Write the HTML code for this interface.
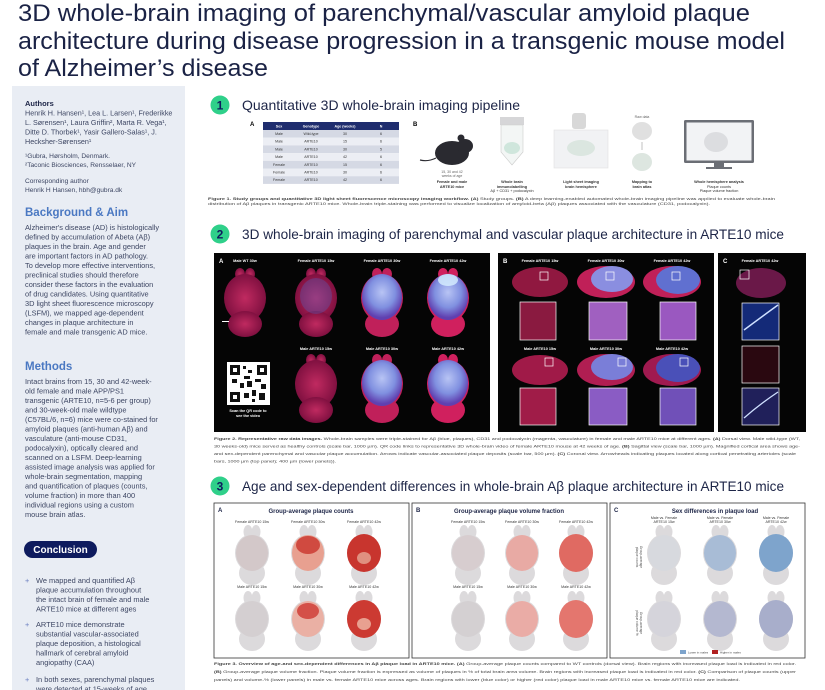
<!DOCTYPE html>
<html><head><meta charset="utf-8"><style>
html,body{margin:0;padding:0;background:#fff;}
svg{display:block;font-family:"Liberation Sans",sans-serif;}
</style></head><body>
<svg width="825" height="690" viewBox="0 0 825 690" xmlns="http://www.w3.org/2000/svg">
<defs>
<g id="br2"><ellipse cx="-5" cy="-30" rx="5" ry="6"/><ellipse cx="5" cy="-30" rx="5" ry="6"/><ellipse cx="0" cy="-6" rx="21" ry="24"/><ellipse cx="0" cy="20" rx="17" ry="13"/></g>
<g id="br3"><ellipse cx="-4" cy="-24" rx="4.5" ry="7"/><ellipse cx="4" cy="-24" rx="4.5" ry="7"/><ellipse cx="0" cy="-3" rx="17" ry="19"/><ellipse cx="0" cy="17" rx="13" ry="12"/></g>
<radialGradient id="mag" cx="50%" cy="50%" r="50%"><stop offset="0" stop-color="#c02a60"/><stop offset="1" stop-color="#801040"/></radialGradient>
<radialGradient id="blu" cx="50%" cy="40%" r="55%"><stop offset="0" stop-color="#b8c4f4"/><stop offset="0.6" stop-color="#8090e0"/><stop offset="1" stop-color="#6040b0"/></radialGradient>
</defs>

<!-- Title -->
<g fill="#1a2245" font-size="24">
<text x="18" y="21" textLength="732" lengthAdjust="spacingAndGlyphs">3D whole-brain imaging of parenchymal/vascular amyloid plaque</text>
<text x="18" y="49" textLength="767" lengthAdjust="spacingAndGlyphs">architecture during disease progression in a transgenic mouse model</text>
<text x="18" y="76" textLength="250" lengthAdjust="spacingAndGlyphs">of Alzheimer’s disease</text>
</g>

<!-- Left panel -->
<rect x="12" y="86" width="173" height="604" fill="#e9edf4"/>
<g fill="#3d4663" font-size="7.2">
<text x="25" y="106" font-weight="bold" fill="#1d2547" font-size="7.5">Authors</text>
<text x="25" y="115.5">Henrik H. Hansen¹, Lea L. Larsen¹, Frederikke</text>
<text x="25" y="125">L. Sørensen¹, Laura Griffin², Marta R. Vega¹,</text>
<text x="25" y="134.5">Ditte D. Thorbek¹, Yasir Gallero-Salas¹, J.</text>
<text x="25" y="144">Hecksher-Sørensen¹</text>
<text x="25" y="158" font-size="6.6">¹Gubra, Hørsholm, Denmark.</text>
<text x="25" y="167" font-size="6.6">²Taconic Biosciences, Rensselaer, NY</text>
<text x="25" y="183" font-size="6.6">Corresponding author</text>
<text x="25" y="192" font-size="6.6">Henrik H Hansen, hbh@gubra.dk</text>
</g>
<text x="25" y="216" font-size="11.5" font-weight="bold" fill="#4a78c2">Background &amp; Aim</text>
<g fill="#3d4663" font-size="7.4">
<text x="25" y="230">Alzheimer's disease (AD) is histologically</text>
<text x="25" y="239.5">defined by accumulation of Abeta (Aβ)</text>
<text x="25" y="249">plaques in the brain. Age and gender</text>
<text x="25" y="258.5">are important factors in AD pathology.</text>
<text x="25" y="268">To develop more effective interventions,</text>
<text x="25" y="277.5">preclinical studies should therefore</text>
<text x="25" y="287">consider these factors in the evaluation</text>
<text x="25" y="296.5">of drug candidates. Using quantitative</text>
<text x="25" y="306">3D light sheet fluorescence microscopy</text>
<text x="25" y="315.5">(LSFM), we mapped age-dependent</text>
<text x="25" y="325">changes in plaque architecture in</text>
<text x="25" y="334.5">female and male transgenic AD mice.</text>
</g>
<text x="25" y="370" font-size="11.5" font-weight="bold" fill="#4a78c2">Methods</text>
<g fill="#3d4663" font-size="7.4">
<text x="25" y="384">Intact brains from 15, 30 and 42-week-</text>
<text x="25" y="393.5">old female and male APP/PS1</text>
<text x="25" y="403">transgenic (ARTE10, n=5-6 per group)</text>
<text x="25" y="412.5">and 30-week-old male wildtype</text>
<text x="25" y="422">(C57BL/6, n=6) mice were co-stained for</text>
<text x="25" y="431.5">amyloid plaques (anti-human Aβ) and</text>
<text x="25" y="441">vasculature (anti-mouse CD31,</text>
<text x="25" y="450.5">podocalyxin), optically cleared and</text>
<text x="25" y="460">scanned on a LSFM. Deep-learning</text>
<text x="25" y="469.5">assisted image analysis was applied for</text>
<text x="25" y="479">whole-brain segmentation, mapping</text>
<text x="25" y="488.5">and quantification of plaques (counts,</text>
<text x="25" y="498">volume fraction) in more than 400</text>
<text x="25" y="507.5">individual regions using a custom</text>
<text x="25" y="517">mouse brain atlas.</text>
</g>
<rect x="24" y="541" width="73" height="17" rx="8.5" fill="#0e1b5e"/>
<text x="60.5" y="553" font-size="10" font-weight="bold" fill="#fff" text-anchor="middle">Conclusion</text>
<g fill="#3d4663" font-size="7.4">
<text x="25" y="583" fill="#6a7ec0">+</text>
<text x="36" y="583">We mapped and quantified Aβ</text>
<text x="36" y="592.5">plaque accumulation throughout</text>
<text x="36" y="602">the intact brain of female and male</text>
<text x="36" y="611.5">ARTE10 mice at different ages</text>
<text x="25" y="627" fill="#6a7ec0">+</text>
<text x="36" y="627">ARTE10 mice demonstrate</text>
<text x="36" y="636.5">substantial vascular-associated</text>
<text x="36" y="646">plaque deposition, a histological</text>
<text x="36" y="655.5">hallmark of cerebral amyloid</text>
<text x="36" y="665">angiopathy (CAA)</text>
<text x="25" y="682" fill="#6a7ec0">+</text>
<text x="36" y="682">In both sexes, parenchymal plaques</text>
<text x="36" y="691.5">were detected at 15-weeks of age</text>
</g>

<!-- Section headers -->
<g>
<circle cx="220" cy="105" r="9.5" fill="#2fd08a"/><text x="220" y="109.5" font-size="12" font-weight="bold" fill="#0e1b5e" text-anchor="middle">1</text>
<text x="242" y="110" font-size="14" fill="#1d2547" textLength="278" lengthAdjust="spacingAndGlyphs">Quantitative 3D whole-brain imaging pipeline</text>
<circle cx="220" cy="234" r="9.5" fill="#2fd08a"/><text x="220" y="238.5" font-size="12" font-weight="bold" fill="#0e1b5e" text-anchor="middle">2</text>
<text x="242" y="239" font-size="14" fill="#1d2547" textLength="542" lengthAdjust="spacingAndGlyphs">3D whole-brain imaging of parenchymal and vascular plaque architecture in ARTE10 mice</text>
<circle cx="220" cy="486" r="9.5" fill="#2fd08a"/><text x="220" y="490.5" font-size="12" font-weight="bold" fill="#0e1b5e" text-anchor="middle">3</text>
<text x="242" y="491" font-size="14" fill="#1d2547" textLength="542" lengthAdjust="spacingAndGlyphs">Age and sex-dependent differences in whole-brain Aβ plaque architecture in ARTE10 mice</text>
</g>

<!-- Figure 1 -->
<text x="250" y="126" font-size="6" font-weight="bold">A</text>
<g font-size="3.6" text-anchor="middle">
<rect x="263" y="122" width="136" height="8" fill="#1f2d6e"/>
<g fill="#fff" font-weight="bold"><text x="279" y="127.5">Sex</text><text x="311" y="127.5">Genotype</text><text x="345" y="127.5">Age (weeks)</text><text x="381" y="127.5">N</text></g>
<rect x="263" y="130" width="136" height="7.7" fill="#d5d9e4"/>
<rect x="263" y="137.7" width="136" height="7.7" fill="#eceef4"/>
<rect x="263" y="145.4" width="136" height="7.7" fill="#d5d9e4"/>
<rect x="263" y="153.1" width="136" height="7.7" fill="#eceef4"/>
<rect x="263" y="160.8" width="136" height="7.7" fill="#d5d9e4"/>
<rect x="263" y="168.5" width="136" height="7.7" fill="#eceef4"/>
<rect x="263" y="176.2" width="136" height="7.7" fill="#d5d9e4"/>
<g fill="#333">
<text x="279" y="135">Male</text><text x="311" y="135">Wild-type</text><text x="345" y="135">30</text><text x="381" y="135">6</text>
<text x="279" y="142.7">Male</text><text x="311" y="142.7">ARTE10</text><text x="345" y="142.7">15</text><text x="381" y="142.7">6</text>
<text x="279" y="150.4">Male</text><text x="311" y="150.4">ARTE10</text><text x="345" y="150.4">30</text><text x="381" y="150.4">5</text>
<text x="279" y="158.1">Male</text><text x="311" y="158.1">ARTE10</text><text x="345" y="158.1">42</text><text x="381" y="158.1">6</text>
<text x="279" y="165.8">Female</text><text x="311" y="165.8">ARTE10</text><text x="345" y="165.8">15</text><text x="381" y="165.8">6</text>
<text x="279" y="173.5">Female</text><text x="311" y="173.5">ARTE10</text><text x="345" y="173.5">30</text><text x="381" y="173.5">6</text>
<text x="279" y="181.2">Female</text><text x="311" y="181.2">ARTE10</text><text x="345" y="181.2">42</text><text x="381" y="181.2">6</text>
</g></g>
<text x="413" y="126" font-size="6" font-weight="bold">B</text>
<ellipse cx="452" cy="153" rx="17" ry="12" fill="#2a2a30"/>
<ellipse cx="465" cy="146" rx="8" ry="7" fill="#2a2a30"/>
<circle cx="461" cy="138" r="3.5" fill="#2a2a30"/>
<path d="M436 158 Q428 162 420 160" stroke="#2a2a30" stroke-width="1.2" fill="none"/>
<text x="452" y="173" font-size="3.5" fill="#666" text-anchor="middle">15, 30 and 42</text>
<text x="452" y="177" font-size="3.5" fill="#666" text-anchor="middle">weeks of age</text>
<rect x="500" y="117" width="24" height="8" fill="#d6d6d8"/>
<path d="M501 125 L523 125 L523 152 L512 165 L501 152 Z" fill="#f3f6f5" stroke="#ccc" stroke-width="0.6"/>
<ellipse cx="512" cy="148" rx="8" ry="6" fill="#cfe6dc"/>
<rect x="572" y="113" width="14" height="16" rx="3" fill="#d8d8d8"/>
<rect x="554" y="130" width="54" height="38" fill="#f1f2f4" stroke="#e0e0e0" stroke-width="0.6"/>
<ellipse cx="581" cy="148" rx="14" ry="8" fill="#dbe6e0"/>
<text x="642" y="118" font-size="3.5" fill="#666" text-anchor="middle">Raw data</text>
<ellipse cx="642" cy="131" rx="10" ry="9" fill="#e0e0e0"/>
<path d="M642 142 V150" stroke="#999" stroke-width="0.6"/>
<ellipse cx="642" cy="162" rx="10" ry="9" fill="#dde6e0"/>
<rect x="684" y="120" width="70" height="43" rx="1.5" fill="#6b6e75"/>
<rect x="686.5" y="122.5" width="65" height="38" fill="#f2f3f5"/>
<ellipse cx="716" cy="142" rx="12" ry="10" fill="#dcdde0"/>
<rect x="714" y="163" width="10" height="4" fill="#6b6e75"/><rect x="706" y="167" width="26" height="2" fill="#6b6e75"/>
<g font-size="3.8" text-anchor="middle" fill="#333">
<g font-weight="bold"><text x="452" y="183">Female and male</text><text x="452" y="188">ARTE10 mice</text>
<text x="512" y="183">Whole brain</text><text x="512" y="188">immunolabelling</text>
<text x="581" y="183">Light sheet imaging</text><text x="581" y="188">brain hemisphere</text>
<text x="642" y="183">Mapping to</text><text x="642" y="188">brain atlas</text>
<text x="719" y="183">Whole hemisphere analysis</text></g>
<text x="512" y="192">Aβ + CD31 + podocalyxin</text>
<text x="719" y="188">Plaque counts</text><text x="719" y="192">Plaque volume fraction</text>
</g>
<g font-size="4" fill="#444">
<text x="208" y="200" textLength="567" lengthAdjust="spacingAndGlyphs"><tspan font-weight="bold">Figure 1. Study groups and quantitative 3D light sheet fluorescence microscopy imaging workflow. (A)</tspan> Study groups. <tspan font-weight="bold">(B)</tspan> A deep learning-enabled automated whole-brain imaging pipeline was applied to evaluate whole-brain</text>
<text x="208" y="205" textLength="502" lengthAdjust="spacingAndGlyphs">distribution of Aβ plaques in transgenic ARTE10 mice. Whole-brain triple-staining was performed to visualize localization of amyloid-beta (Aβ) plaques associated with the vasculature (CD31, podocalyxin).</text>
</g>

<!-- Figure 2 panels -->
<rect x="214" y="253" width="276" height="179" fill="#050505"/>
<rect x="498" y="253" width="216" height="179" fill="#050505"/>
<rect x="718" y="253" width="88" height="179" fill="#050505"/>
<g fill="#fff" font-size="3.8" text-anchor="middle" font-weight="bold">
<text x="219" y="263" font-size="6" text-anchor="start">A</text>
<text x="503" y="263" font-size="6" text-anchor="start">B</text>
<text x="723" y="263" font-size="6" text-anchor="start">C</text>
<text x="245" y="262">Male WT 30w</text><text x="316" y="262">Female ARTE10 15w</text><text x="382" y="262">Female ARTE10 30w</text><text x="448" y="262">Female ARTE10 42w</text>
<text x="316" y="350">Male ARTE10 15w</text><text x="382" y="350">Male ARTE10 30w</text><text x="448" y="350">Male ARTE10 42w</text>
<text x="540" y="262">Female ARTE10 15w</text><text x="606" y="262">Female ARTE10 30w</text><text x="672" y="262">Female ARTE10 42w</text>
<text x="540" y="350">Male ARTE10 15w</text><text x="606" y="350">Male ARTE10 30w</text><text x="672" y="350">Male ARTE10 42w</text>
<text x="760" y="262">Female ARTE10 42w</text>
</g>
<use href="#br2" x="245" y="304" fill="url(#mag)"/>
<use href="#br2" x="316" y="304" fill="url(#mag)"/>
<ellipse cx="316" cy="296" rx="16" ry="18" fill="#5060c0" opacity="0.35"/>
<use href="#br2" x="382" y="304" fill="#c0205a"/>
<ellipse cx="382" cy="297" rx="20" ry="23" fill="url(#blu)"/>
<use href="#br2" x="448" y="304" fill="#d0205e"/>
<ellipse cx="448" cy="297" rx="20" ry="23" fill="url(#blu)"/>
<ellipse cx="448" cy="280" rx="10" ry="6" fill="#d8f0ff" opacity="0.8"/>
<use href="#br2" x="316" y="390" fill="url(#mag)"/>
<use href="#br2" x="382" y="390" fill="#c0205a"/>
<ellipse cx="382" cy="383" rx="20" ry="23" fill="url(#blu)"/>
<use href="#br2" x="448" y="390" fill="#d0205e"/>
<ellipse cx="448" cy="383" rx="20" ry="23" fill="url(#blu)"/>
<rect x="222" y="321" width="7" height="1" fill="#fff"/>
<rect x="227" y="362" width="43" height="43" fill="#fff"/>
<g fill="#111"><rect x="230" y="365" width="10" height="10"/><rect x="257" y="365" width="10" height="10"/><rect x="230" y="392" width="10" height="10"/>
<rect x="243" y="366" width="3" height="3"/><rect x="248" y="370" width="4" height="3"/><rect x="244" y="376" width="6" height="3"/><rect x="232" y="379" width="5" height="4"/><rect x="240" y="383" width="4" height="5"/><rect x="247" y="381" width="5" height="6"/><rect x="255" y="379" width="6" height="3"/><rect x="261" y="384" width="5" height="5"/><rect x="252" y="390" width="4" height="6"/><rect x="244" y="393" width="5" height="5"/><rect x="259" y="393" width="6" height="7"/><rect x="252" y="399" width="3" height="3"/></g>
<rect x="233" y="368" width="4" height="4" fill="#fff"/><rect x="260" y="368" width="4" height="4" fill="#fff"/><rect x="233" y="395" width="4" height="4" fill="#fff"/>
<g fill="#fff" font-size="3.8" text-anchor="middle" font-weight="bold"><text x="248" y="412">Scan the QR code to</text><text x="248" y="417">see the video</text></g>
<ellipse cx="540" cy="282" rx="28" ry="15" fill="#901840"/>
<ellipse cx="606" cy="282" rx="29" ry="16" fill="#c02058"/><ellipse cx="612" cy="279" rx="21" ry="13" fill="#8a8ee0"/>
<ellipse cx="672" cy="282" rx="29" ry="16" fill="#c02058"/><ellipse cx="678" cy="280" rx="22" ry="14" fill="#6070d0"/>
<ellipse cx="540" cy="370" rx="28" ry="15" fill="#a01a48"/>
<ellipse cx="606" cy="370" rx="29" ry="16" fill="#b01e52"/><ellipse cx="612" cy="367" rx="21" ry="13" fill="#7a7ed8"/>
<ellipse cx="672" cy="370" rx="29" ry="16" fill="#a01a50"/><ellipse cx="678" cy="368" rx="22" ry="14" fill="#4a50b8"/>
<g fill="none" stroke="#fff" stroke-width="0.7">
<rect x="540" y="272" width="8" height="8"/><rect x="606" y="272" width="8" height="8"/><rect x="672" y="272" width="8" height="8"/>
<rect x="545" y="358" width="8" height="8"/><rect x="618" y="358" width="8" height="8"/><rect x="680" y="358" width="8" height="8"/>
</g>
<rect x="520" y="302" width="36" height="38" fill="#8a1a40" stroke="#fff" stroke-width="0.7"/>
<rect x="589" y="302" width="38" height="38" fill="#a060c0" stroke="#fff" stroke-width="0.7"/>
<rect x="660" y="302" width="36" height="38" fill="#9a58c0" stroke="#fff" stroke-width="0.7"/>
<rect x="520" y="388" width="36" height="37" fill="#a01c48" stroke="#fff" stroke-width="0.7"/>
<rect x="589" y="388" width="38" height="37" fill="#8a5cc4" stroke="#fff" stroke-width="0.7"/>
<rect x="660" y="388" width="36" height="37" fill="#7050b8" stroke="#fff" stroke-width="0.7"/>
<ellipse cx="761" cy="283" rx="25" ry="15" fill="#6a1848"/>
<rect x="740" y="270" width="9" height="9" fill="none" stroke="#fff" stroke-width="0.7"/>
<rect x="742" y="303" width="37" height="37" fill="#142a78" stroke="#fff" stroke-width="0.7"/>
<path d="M744 330 Q760 318 778 305" stroke="#cfe0ff" stroke-width="1.5" fill="none"/>
<rect x="742" y="346" width="37" height="37" fill="#2a0810" stroke="#fff" stroke-width="0.7"/>
<rect x="742" y="388" width="37" height="37" fill="#20205a" stroke="#fff" stroke-width="0.7"/>
<path d="M744 418 Q760 404 778 392" stroke="#cfe0ff" stroke-width="1.3" fill="none"/>
<g font-size="3.8" fill="#444">
<text x="214" y="440" textLength="586" lengthAdjust="spacingAndGlyphs"><tspan font-weight="bold">Figure 2. Representative raw data images.</tspan> Whole-brain samples were triple-stained for Aβ (blue, plaques), CD31 and podocalyxin (magenta, vasculature) in female and male ARTE10 mice at different ages. <tspan font-weight="bold">(A)</tspan> Dorsal view. Male wild-type (WT,</text>
<text x="214" y="447.5" textLength="586" lengthAdjust="spacingAndGlyphs">30 weeks-old) mice served as healthy controls (scale bar, 1000 µm). QR code links to representative 3D whole-brain video of female ARTE10 mouse at 42 weeks of age. <tspan font-weight="bold">(B)</tspan> Sagittal view (scale bar, 1000 µm). Magnified cortical area shows age-</text>
<text x="214" y="455" textLength="582" lengthAdjust="spacingAndGlyphs">and sex-dependent parenchymal and vascular plaque accumulation. Arrows indicate vascular-associated plaque deposits (scale bar, 500 µm). <tspan font-weight="bold">(C)</tspan> Coronal view. Arrowheads indicating plaques located along cortical penetrating arterioles (scale</text>
<text x="214" y="462.5" textLength="122" lengthAdjust="spacingAndGlyphs">bars, 1000 µm (top panel); 400 µm (lower panels)).</text>
</g>

<!-- Figure 3 panels -->
<g fill="#fff" stroke="#333" stroke-width="0.8">
<rect x="214" y="503" width="195" height="155"/><rect x="412" y="503" width="195" height="155"/><rect x="610" y="503" width="195" height="155"/>
</g>
<g font-size="6" font-weight="bold" fill="#1d2547">
<text x="218" y="512">A</text><text x="416" y="512">B</text><text x="614" y="512">C</text>
<text x="311" y="513" text-anchor="middle">Group-average plaque counts</text>
<text x="509" y="513" text-anchor="middle">Group-average plaque volume fraction</text>
<text x="715" y="513" text-anchor="middle">Sex differences in plaque load</text>
</g>
<g font-size="3.6" fill="#333" text-anchor="middle">
<text x="252" y="523">Female ARTE10 15w</text><text x="308" y="523">Female ARTE10 30w</text><text x="364" y="523">Female ARTE10 42w</text>
<text x="252" y="588">Male ARTE10 15w</text><text x="308" y="588">Male ARTE10 30w</text><text x="364" y="588">Male ARTE10 42w</text>
<text x="468" y="523">Female ARTE10 15w</text><text x="522" y="523">Female ARTE10 30w</text><text x="576" y="523">Female ARTE10 42w</text>
<text x="468" y="588">Male ARTE10 15w</text><text x="522" y="588">Male ARTE10 30w</text><text x="576" y="588">Male ARTE10 42w</text>
<text x="664" y="519">Male vs. Female</text><text x="664" y="523">ARTE10 15w</text>
<text x="720" y="519">Male vs. Female</text><text x="720" y="523">ARTE10 30w</text>
<text x="776" y="519">Male vs. Female</text><text x="776" y="523">ARTE10 42w</text>
</g>
<g fill="#dcdadc">
<use href="#br3" x="252" y="556"/><use href="#br3" x="308" y="556"/><use href="#br3" x="364" y="556"/>
<use href="#br3" x="252" y="622"/><use href="#br3" x="308" y="622"/><use href="#br3" x="364" y="622"/>
<use href="#br3" x="468" y="556"/><use href="#br3" x="522" y="556"/><use href="#br3" x="576" y="556"/>
<use href="#br3" x="468" y="622"/><use href="#br3" x="522" y="622"/><use href="#br3" x="576" y="622"/>
<use href="#br3" x="664" y="556"/><use href="#br3" x="720" y="556"/><use href="#br3" x="776" y="556"/>
<use href="#br3" x="664" y="622"/><use href="#br3" x="720" y="622"/><use href="#br3" x="776" y="622"/>
</g>
<g>
<ellipse cx="252" cy="553" rx="16" ry="18" fill="#cdbcbc" opacity="0.6"/>
<ellipse cx="252" cy="619" rx="16" ry="18" fill="#cfc8ca" opacity="0.6"/>
<ellipse cx="308" cy="553" rx="16" ry="18" fill="#e8a090"/><ellipse cx="308" cy="545" rx="12" ry="9" fill="#d04a40"/>
<ellipse cx="308" cy="619" rx="16" ry="18" fill="#eab0a4"/><ellipse cx="308" cy="611" rx="11" ry="8" fill="#d45048"/>
<ellipse cx="364" cy="553" rx="17" ry="19" fill="#c8352e"/><ellipse cx="364" cy="558" rx="7" ry="6" fill="#e09080"/>
<ellipse cx="364" cy="619" rx="17" ry="19" fill="#cc3a32"/><ellipse cx="364" cy="624" rx="7" ry="6" fill="#e8a090"/>
<ellipse cx="468" cy="553" rx="16" ry="18" fill="#d4c8c9" opacity="0.7"/>
<ellipse cx="468" cy="619" rx="16" ry="18" fill="#d0cccd" opacity="0.7"/>
<ellipse cx="522" cy="553" rx="16" ry="18" fill="#e8aaa4"/>
<ellipse cx="522" cy="619" rx="16" ry="18" fill="#eaaca6"/>
<ellipse cx="576" cy="553" rx="17" ry="19" fill="#e06a62"/>
<ellipse cx="576" cy="619" rx="17" ry="19" fill="#e4766e"/>
<ellipse cx="664" cy="553" rx="16" ry="18" fill="#d4d8de" opacity="0.7"/>
<ellipse cx="720" cy="553" rx="16" ry="18" fill="#a8bcd6"/>
<ellipse cx="776" cy="553" rx="17" ry="19" fill="#7ea4cc"/>
<ellipse cx="664" cy="619" rx="16" ry="18" fill="#d2d2da" opacity="0.7"/>
<ellipse cx="720" cy="619" rx="16" ry="18" fill="#b4b8d0"/>
<ellipse cx="776" cy="619" rx="17" ry="19" fill="#a8aecb"/>
</g>
<g font-size="3.3" fill="#555" text-anchor="middle">
<text transform="translate(640 557) rotate(90)">Group-average</text><text transform="translate(636 557) rotate(90)">plaque counts</text>
<text transform="translate(640 623) rotate(90)">Group-average</text><text transform="translate(636 623) rotate(90)">plaque volume %</text>
</g>
<rect x="680" y="650" width="6" height="4" fill="#7ea4cc"/><text x="688" y="653.5" font-size="3" fill="#444">Lower in males</text>
<rect x="712" y="650" width="6" height="4" fill="#b02020"/><text x="720" y="653.5" font-size="3" fill="#444">Higher in males</text>
<g font-size="3.8" fill="#444">
<text x="214" y="665" textLength="582" lengthAdjust="spacingAndGlyphs"><tspan font-weight="bold">Figure 3. Overview of age-and sex-dependent differences in Aβ plaque load in ARTE10 mice. (A)</tspan> Group-average plaque counts compared to WT controls (dorsal view). Brain regions with increased plaque load is indicated in red color.</text>
<text x="214" y="673" textLength="582" lengthAdjust="spacingAndGlyphs"><tspan font-weight="bold">(B)</tspan> Group-average plaque volume fraction. Plaque volume fraction is expressed as volume of plaques in % of total brain area volume. Brain regions with increased plaque load is indicated in red color. <tspan font-weight="bold">(C)</tspan> Comparison of plaque counts (upper</text>
<text x="214" y="681" textLength="526" lengthAdjust="spacingAndGlyphs">panels) and volume-% (lower panels) in male vs. female ARTE10 mice across ages. Brain regions with lower (blue color) or higher (red color) plaque load in male ARTE10 mice vs. female ARTE10 mice are indicated.</text>
</g>
</svg>
</body></html>
